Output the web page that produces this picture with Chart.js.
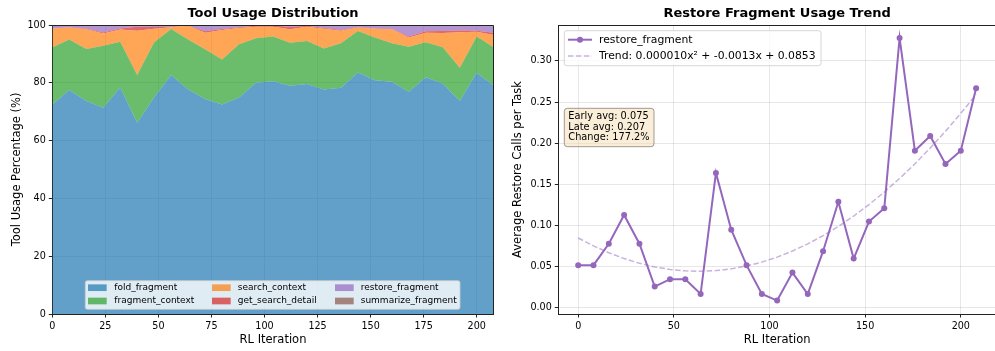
<!DOCTYPE html>
<html>
<head>
<meta charset="utf-8">
<script src="https://cdn.jsdelivr.net/npm/chart.js@4.4.1/dist/chart.umd.min.js"></script>
<style>
  html, body { margin: 0; padding: 0; background: #fff; overflow: hidden; }
  #wrap { position: relative; width: 995px; height: 351px; overflow: hidden; background: #fff; }
  #left { position: absolute; left: 0; top: 0; }
  #right { position: absolute; left: 500px; top: 0; }
</style>
</head>
<body>
<div id="wrap">
  <canvas id="left" width="496" height="351"></canvas>
  <canvas id="right" width="500" height="351"></canvas>
</div>
<script>
// RL iterations (x axis of both panels)
const iterations = [0, 8, 16, 24, 32, 40, 48, 56, 64, 72, 80, 88, 96, 104, 112, 120, 128, 136, 144, 152, 160, 168, 176, 184, 192, 200, 208];

// share of each tool, in % (stacked bottom -> top)
const foldFragment      = [72.5, 77.5, 73.7, 71.4, 78.4, 66.2, 75.0, 82.7, 77.7, 74.4, 72.5, 74.9, 80.0, 80.5, 79.0, 79.6, 77.7, 78.3, 83.6, 80.9, 80.4, 76.9, 81.9, 79.8, 73.7, 83.5, 79.1];
const fragmentContext   = [19.7, 17.5, 18.0, 21.4, 15.8, 16.5, 19.0, 15.9, 17.3, 17.2, 15.6, 18.4, 15.4, 15.5, 14.9, 14.9, 14.2, 15.4, 14.3, 14.8, 13.3, 15.6, 12.1, 12.5, 11.5, 12.5, 13.2];
const searchContext     = [6.6, 4.1, 6.8, 4.3, 4.2, 15.3, 4.7, 0.6, 4.7, 5.7, 10.2, 5.7, 4.0, 3.4, 4.6, 4.9, 6.8, 4.3, 1.2, 3.0, 4.8, 3.2, 3.3, 4.9, 12.3, 1.7, 4.2];
const getSearchDetail   = [0.1, 0.1, 0.2, 0.3, 0.4, 1.4, 0.6, 0.2, 0.1, 0.5, 0.3, 0.2, 0.3, 0.4, 0.8, 0.3, 0.3, 0.3, 0.2, 0.1, 0.1, 0.3, 0.5, 0.7, 0.6, 0.3, 0.8];
const restoreFragment   = [1.1, 0.8, 1.3, 2.3, 1.0, 0.6, 0.7, 0.6, 0.2, 2.2, 1.4, 0.8, 0.3, 0.2, 0.7, 0.3, 1.0, 1.7, 0.7, 1.2, 1.4, 4.0, 2.2, 2.1, 1.9, 2.0, 2.7];
const summarizeFragment = [0, 0, 0, 0.3, 0.2, 0, 0, 0, 0, 0, 0, 0, 0, 0, 0, 0, 0, 0, 0, 0, 0, 0, 0, 0, 0, 0, 0];

// average restore_fragment calls per task + fitted quadratic trend
const restoreCalls = [0.052, 0.052, 0.078, 0.113, 0.078, 0.026, 0.035, 0.035, 0.017, 0.164, 0.095, 0.052, 0.017, 0.009, 0.043, 0.017, 0.069, 0.129, 0.060, 0.105, 0.121, 0.328, 0.191, 0.209, 0.175, 0.191, 0.267];
const trendValues  = [0.0850, 0.0754, 0.0671, 0.0600, 0.0543, 0.0499, 0.0468, 0.0451, 0.0446, 0.0454, 0.0475, 0.0510, 0.0557, 0.0618, 0.0692, 0.0778, 0.0878, 0.0991, 0.1117, 0.1256, 0.1408, 0.1573, 0.1751, 0.1942, 0.2147, 0.2364, 0.2594];
const trendLabel = 'Trend: 0.000010x\u00B2 + -0.0013x + 0.0853';
const statsLines = ['Early avg: 0.075', 'Late avg: 0.207', 'Change: 177.2%'];

// tick settings
const pctTicks = { min: 0, max: 100, step: 20 };
const leftIterTicks = { min: 0, max: 208, step: 25 };
const callTicks = { min: -0.0073, max: 0.3437, step: 0.05 };
const rightIterTicks = { min: -10.4, max: 218.4, step: 50 };

const FONT = "'DejaVu Sans', sans-serif";
const gridColor = 'rgba(176,176,176,0.3)';
Chart.defaults.font.family = FONT;
Chart.defaults.color = '#000';

function toPoints(ys) {
    return iterations.map((x, i) => ({ x: x, y: ys[i] }));
}

function roundRect(ctx, x, y, w, h, r) {
    ctx.beginPath();
    ctx.moveTo(x + r, y);
    ctx.lineTo(x + w - r, y);
    ctx.quadraticCurveTo(x + w, y, x + w, y + r);
    ctx.lineTo(x + w, y + h - r);
    ctx.quadraticCurveTo(x + w, y + h, x + w - r, y + h);
    ctx.lineTo(x + r, y + h);
    ctx.quadraticCurveTo(x, y + h, x, y + h - r);
    ctx.lineTo(x, y + r);
    ctx.quadraticCurveTo(x, y, x + r, y);
    ctx.closePath();
}

// top + right spines like matplotlib
const frame = {
    id: 'frame',
    afterDraw(chart) {
        const a = chart.chartArea;
        const ctx = chart.ctx;
        ctx.save();
        ctx.strokeStyle = '#222';
        ctx.lineWidth = 1;
        ctx.beginPath();
        ctx.moveTo(Math.round(a.left), Math.round(a.top) + 0.5);
        ctx.lineTo(Math.round(a.right) - 0.5, Math.round(a.top) + 0.5);
        ctx.lineTo(Math.round(a.right) - 0.5, Math.round(a.bottom));
        ctx.stroke();
        ctx.restore();
    }
};

function axisCommon(t, size) {
    return {
        type: 'linear',
        min: t.min,
        max: t.max,
        grid: { color: gridColor, tickColor: '#222', tickLength: 3.5, lineWidth: 1 },
        border: { color: '#222', width: 1 },
        ticks: { stepSize: t.step, includeBounds: false, padding: 3, font: { size: size }, color: '#000', maxRotation: 0 }
    };
}

// ---------- left panel: stacked tool usage ----------
const toolSeries = [
    { label: 'fold_fragment', data: foldFragment, color: 'rgba(31,119,180,0.7)' },
    { label: 'fragment_context', data: fragmentContext, color: 'rgba(44,160,44,0.7)' },
    { label: 'search_context', data: searchContext, color: 'rgba(255,127,14,0.7)' },
    { label: 'get_search_detail', data: getSearchDetail, color: 'rgba(214,39,40,0.7)' },
    { label: 'restore_fragment', data: restoreFragment, color: 'rgba(148,103,189,0.7)' },
    { label: 'summarize_fragment', data: summarizeFragment, color: 'rgba(140,86,75,0.7)' }
];

const toolLegend = {
    id: 'toolLegend',
    afterDraw(chart) {
        const ctx = chart.ctx;
        ctx.save();
        roundRect(ctx, 85.3, 280.7, 374.7, 28.6, 2);
        ctx.fillStyle = 'rgba(255,255,255,0.8)';
        ctx.fill();
        ctx.strokeStyle = 'rgba(204,204,204,0.8)';
        ctx.lineWidth = 1;
        ctx.stroke();
        ctx.font = '9px ' + FONT;
        ctx.textBaseline = 'middle';
        const patchX = [88, 212, 335];
        const textX = [114.3, 237.7, 360.7];
        const rowY = [287.7, 301];
        toolSeries.forEach((s, i) => {
            const col = Math.floor(i / 2), row = i % 2;
            ctx.fillStyle = s.color;
            ctx.fillRect(patchX[col], rowY[row] - 3.35, 18.7, 6.7);
            ctx.fillStyle = '#000';
            ctx.fillText(s.label, textX[col], rowY[row]);
        });
        ctx.restore();
    }
};

const leftX = axisCommon(leftIterTicks, 9.6);
leftX.z = 1;
leftX.title = { display: true, text: 'RL Iteration', font: { size: 11.5 }, color: '#000', padding: { top: 0, bottom: 4 } };
leftX.afterFit = s => { s.height = 37; };

const leftY = axisCommon(pctTicks, 9.6);
leftY.z = 1;
leftY.stacked = true;
leftY.title = { display: true, text: 'Tool Usage Percentage (%)', font: { size: 11.5 }, color: '#000', padding: { top: 10, bottom: 0 } };
leftY.afterFit = s => { s.width = 52.3; };

new Chart(document.getElementById('left'), {
    type: 'line',
    data: {
        datasets: toolSeries.map((s, i) => ({
            label: s.label,
            data: toPoints(s.data),
            backgroundColor: s.color,
            borderWidth: 0,
            pointRadius: 0,
            tension: 0,
            fill: i === 0 ? 'origin' : '-1'
        }))
    },
    options: {
        responsive: false,
        animation: false,
        devicePixelRatio: 1,
        layout: { padding: { left: 0, right: 2.3, top: 0, bottom: 0 } },
        scales: { x: leftX, y: leftY },
        plugins: {
            legend: { display: false },
            tooltip: { enabled: false },
            title: {
                display: true, text: 'Tool Usage Distribution', fullSize: false,
                font: { size: 13, weight: 'bold' }, color: '#000',
                padding: { top: 6.2, bottom: 3.2 }
            }
        }
    },
    plugins: [frame, toolLegend]
});

// ---------- right panel: restore_fragment trend ----------
const restoreLegend = {
    id: 'restoreLegend',
    afterDraw(chart) {
        const ctx = chart.ctx;
        ctx.save();
        ctx.font = '10.8px ' + FONT;
        const textW = Math.max(ctx.measureText('restore_fragment').width, ctx.measureText(trendLabel).width);
        roundRect(ctx, 64.3, 30.7, 99 - 64.3 + textW + 5.5, 35, 2.5);
        ctx.fillStyle = 'rgba(255,255,255,0.8)';
        ctx.fill();
        ctx.strokeStyle = 'rgba(204,204,204,0.8)';
        ctx.lineWidth = 1;
        ctx.stroke();

        // row 1: data line with marker
        ctx.strokeStyle = '#9467bd';
        ctx.lineWidth = 2;
        ctx.beginPath();
        ctx.moveTo(68, 39.7);
        ctx.lineTo(92, 39.7);
        ctx.stroke();
        ctx.fillStyle = '#9467bd';
        ctx.beginPath();
        ctx.arc(80, 39.7, 3, 0, Math.PI * 2);
        ctx.fill();

        // row 2: dashed trend
        ctx.strokeStyle = 'rgba(148,103,189,0.5)';
        ctx.lineWidth = 1.5;
        ctx.setLineDash([5.5, 2.4]);
        ctx.beginPath();
        ctx.moveTo(68, 56);
        ctx.lineTo(92, 56);
        ctx.stroke();
        ctx.setLineDash([]);

        ctx.fillStyle = '#000';
        ctx.textBaseline = 'middle';
        ctx.fillText('restore_fragment', 99, 39.7);
        ctx.fillText(trendLabel, 99, 56);

        // stats box
        roundRect(ctx, 64.3, 108.3, 89.7, 38.4, 3);
        ctx.fillStyle = 'rgba(245,222,179,0.5)';
        ctx.fill();
        ctx.strokeStyle = 'rgba(90,80,70,0.55)';
        ctx.lineWidth = 1;
        ctx.stroke();
        ctx.font = '9.8px ' + FONT;
        ctx.fillStyle = '#000';
        statsLines.forEach((line, i) => {
            ctx.fillText(line, 68.3, 116.3 + i * 10.7);
        });
        ctx.restore();
    }
};

const rightX = axisCommon(rightIterTicks, 9.6);
rightX.title = { display: true, text: 'RL Iteration', font: { size: 11.5 }, color: '#000', padding: { top: 0, bottom: 4 } };
rightX.afterFit = s => { s.height = 37; };

const rightY = axisCommon(callTicks, 9.6);
rightY.ticks.callback = v => v.toFixed(2);
rightY.title = { display: true, text: 'Average Restore Calls per Task', font: { size: 11.5 }, color: '#000', padding: { top: 11, bottom: 0 } };
rightY.afterFit = s => { s.width = 58.3; };

new Chart(document.getElementById('right'), {
    type: 'line',
    data: {
        datasets: [
            {
                label: 'restore_fragment',
                data: toPoints(restoreCalls),
                borderColor: '#9467bd',
                backgroundColor: '#9467bd',
                borderWidth: 2,
                pointRadius: 3,
                pointBorderWidth: 0,
                pointBackgroundColor: '#9467bd',
                tension: 0,
                fill: false
            },
            {
                label: trendLabel,
                data: toPoints(trendValues),
                borderColor: 'rgba(148,103,189,0.5)',
                borderWidth: 1.5,
                borderDash: [5.5, 2.4],
                pointRadius: 0,
                tension: 0,
                fill: false
            }
        ]
    },
    options: {
        responsive: false,
        animation: false,
        devicePixelRatio: 1,
        layout: { padding: { left: 0, right: 1, top: 0, bottom: 0 } },
        scales: { x: rightX, y: rightY },
        plugins: {
            legend: { display: false },
            tooltip: { enabled: false },
            title: {
                display: true, text: 'Restore Fragment Usage Trend', fullSize: false,
                font: { size: 13, weight: 'bold' }, color: '#000',
                padding: { top: 6.2, bottom: 3.2 }
            }
        }
    },
    plugins: [frame, restoreLegend]
});
</script>
</body>
</html>
